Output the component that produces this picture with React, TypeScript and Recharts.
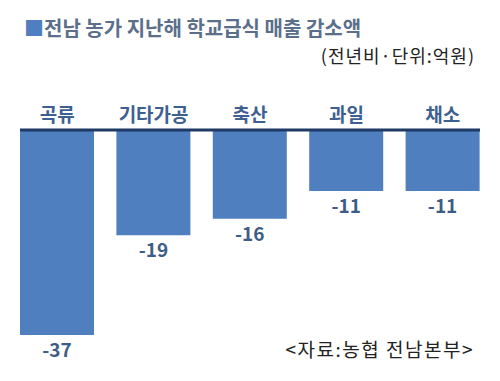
import { BarChart, Bar, XAxis, YAxis, LabelList } from "recharts";

const categories = ["곡류", "기타가공", "축산", "과일", "채소"];
const decrease = [-37, -19, -16, -11, -11];

const data = categories.map((name, i) => ({ name, value: decrease[i] }));

const font = "'Noto Sans CJK KR', 'Noto Sans', sans-serif";

const ValueLabel = (props: any) => {
  const { x, y, width, height, value } = props;
  const bottom = Math.max(y, y + height);
  return (
    <text
      x={x + width / 2}
      y={bottom + 22}
      textAnchor="middle"
      fill="#3e5d86"
      fontSize={19}
      fontWeight="bold"
      fontFamily={font}
    >
      {value}
    </text>
  );
};

const SalesDecrease = () => {
  return (
    <div
      style={{
        position: "absolute",
        left: 0,
        top: 0,
        width: 500,
        height: 381,
        background: "#fff",
        fontFamily: font,
      }}
    >
      <div
        style={{
          position: "absolute",
          left: 24,
          top: 14,
          fontSize: 20,
          fontWeight: "bold",
          color: "#5b6f8b",
          whiteSpace: "nowrap",
          lineHeight: "28px",
        }}
      >
        <span style={{ color: "#4f7fc0" }}>■</span>전남 농가 지난해 학교급식 매출 감소액
      </div>
      <div
        style={{
          position: "absolute",
          right: 25,
          top: 43,
          fontSize: 18,
          letterSpacing: 1,
          color: "#222",
          whiteSpace: "nowrap",
          lineHeight: "24px",
        }}
      >
        (전년비·단위:억원)
      </div>
      <BarChart
        width={500}
        height={381}
        data={data}
        margin={{ top: 100, right: 20, bottom: 46, left: 20 }}
        barCategoryGap={11}
      >
        <XAxis
          dataKey="name"
          orientation="top"
          height={30}
          padding={{ left: -11, right: -11 }}
          tickLine={false}
          axisLine={{ stroke: "#1f3a66", strokeWidth: 3 }}
          tick={{ fill: "#3e6090", fontSize: 19, fontWeight: "bold", fontFamily: font }}
          interval={0}
        />
        <YAxis hide domain={[-37, 0]} />
        <Bar dataKey="value" fill="#4f7fbf" isAnimationActive={false}>
          <LabelList dataKey="value" content={ValueLabel} />
        </Bar>
      </BarChart>
      <div
        style={{
          position: "absolute",
          right: 26,
          top: 336,
          fontSize: 19,
          letterSpacing: 1.5,
          color: "#222",
          whiteSpace: "nowrap",
          lineHeight: "26px",
        }}
      >
        &lt;자료:농협 전남본부&gt;
      </div>
    </div>
  );
};

export default function App() {
  return <SalesDecrease />;
}
